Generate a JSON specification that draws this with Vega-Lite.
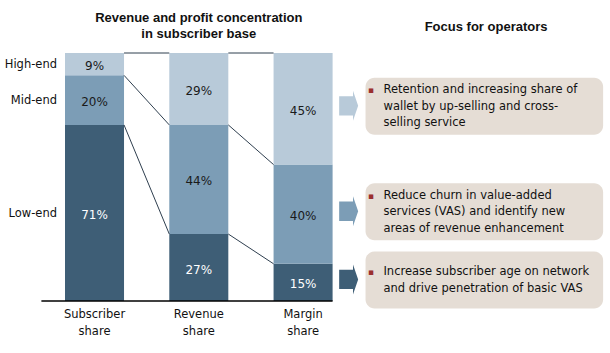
{
  "$schema": "https://vega.github.io/schema/vega-lite/v6.json",
  "width": 610,
  "height": 248,
  "autosize": {"type": "none"},
  "padding": {"top": 53, "bottom": 52, "left": 0, "right": 0},
  "background": "white",
  "config": {"view": {"stroke": null}, "font": "DejaVu Sans"},
  "resolve": {"axis": {"x": "independent", "y": "independent"}},
  "datasets": {
    "shares": [
      {"measure": "Subscriber share", "segment": "Low-end", "value": 0.71},
      {"measure": "Subscriber share", "segment": "Mid-end", "value": 0.20},
      {"measure": "Subscriber share", "segment": "High-end", "value": 0.09},
      {"measure": "Revenue share", "segment": "Low-end", "value": 0.27},
      {"measure": "Revenue share", "segment": "Mid-end", "value": 0.44},
      {"measure": "Revenue share", "segment": "High-end", "value": 0.29},
      {"measure": "Margin share", "segment": "Low-end", "value": 0.15},
      {"measure": "Margin share", "segment": "Mid-end", "value": 0.40},
      {"measure": "Margin share", "segment": "High-end", "value": 0.45}
    ],
    "connectors": [
      {"from": "Subscriber share", "to": "Revenue share", "start": 1.0, "end": 1.0},
      {"from": "Subscriber share", "to": "Revenue share", "start": 0.91, "end": 0.71},
      {"from": "Subscriber share", "to": "Revenue share", "start": 0.71, "end": 0.27},
      {"from": "Revenue share", "to": "Margin share", "start": 1.0, "end": 1.0},
      {"from": "Revenue share", "to": "Margin share", "start": 0.71, "end": 0.55},
      {"from": "Revenue share", "to": "Margin share", "start": 0.27, "end": 0.15}
    ],
    "focus": [
      {"segment": "High-end", "note": "Retention and increasing share of\nwallet by up-selling and cross-\nselling service"},
      {"segment": "Mid-end", "note": "Reduce churn in value-added\nservices (VAS) and identify new\nareas of revenue enhancement"},
      {"segment": "Low-end", "note": "Increase subscriber age on network\nand drive penetration of basic VAS"}
    ]
  },
  "data": {"name": "shares"},
  "transform": [
    {"stack": "value", "groupby": ["measure"], "as": ["y0", "y1"]},
    {"calculate": "(datum.y0 + datum.y1) / 2", "as": "mid"}
  ],
  "layer": [
    {
      "mark": {"type": "rect"},
      "encoding": {
        "x": {"field": "measure", "type": "nominal",
          "scale": {"type": "band", "domain": ["Subscriber share", "Revenue share", "Margin share"], "range": [65, 332.6], "paddingInner": 0.434, "paddingOuter": 0},
          "axis": {"title": null, "domain": false, "ticks": false, "grid": false, "labelAngle": 0, "labelExpr": "split(datum.label, ' ')", "labelFont": "DejaVu Sans", "labelFontSize": 11.5, "labelColor": "#111111", "labelPadding": 7, "labelLineHeight": 17, "labelBaseline": "top"}},
        "y": {"field": "y0", "type": "quantitative", "scale": {"domain": [0, 1], "nice": false, "zero": false}, "axis": null},
        "y2": {"field": "y1"},
        "color": {"field": "segment", "type": "nominal",
          "scale": {"domain": ["High-end", "Mid-end", "Low-end"], "range": ["#b8cad9", "#7c9db6", "#3e5e76"]},
          "legend": null}
      }
    },
    {
      "mark": {"type": "text", "fontSize": 12, "font": "DejaVu Sans", "baseline": "middle", "align": "center", "dy": 2},
      "encoding": {
        "x": {"field": "measure", "type": "nominal",
          "scale": {"type": "band", "domain": ["Subscriber share", "Revenue share", "Margin share"], "range": [65, 332.6], "paddingInner": 0.434, "paddingOuter": 0},
          "axis": null},
        "y": {"field": "mid", "type": "quantitative", "scale": {"domain": [0, 1], "nice": false, "zero": false}, "axis": null},
        "text": {"field": "value", "type": "quantitative", "format": ".0%"},
        "color": {"condition": {"test": "datum.segment === 'Low-end'", "value": "#ffffff"}, "value": "#1a1a1a"}
      }
    },
    {
      "transform": [{"filter": "datum.measure === 'Subscriber share'"}],
      "mark": {"type": "text", "fontSize": 11.5, "font": "DejaVu Sans", "baseline": "middle", "align": "right", "dx": -8, "dy": 1, "color": "#111111"},
      "encoding": {
        "x": {"field": "measure", "type": "nominal", "bandPosition": 0,
          "scale": {"type": "band", "domain": ["Subscriber share", "Revenue share", "Margin share"], "range": [65, 332.6], "paddingInner": 0.434, "paddingOuter": 0},
          "axis": null},
        "y": {"field": "mid", "type": "quantitative", "scale": {"domain": [0, 1], "nice": false, "zero": false}, "axis": null},
        "text": {"field": "segment"}
      }
    },
    {
      "data": {"name": "connectors"},
      "mark": {"type": "rule", "color": "#2f3f4f", "strokeWidth": 1},
      "encoding": {
        "x": {"field": "from", "type": "nominal", "bandPosition": 1,
          "scale": {"type": "band", "domain": ["Subscriber share", "Revenue share", "Margin share"], "range": [65, 332.6], "paddingInner": 0.434, "paddingOuter": 0},
          "axis": null},
        "x2": {"field": "to", "bandPosition": 0},
        "y": {"field": "start", "type": "quantitative", "scale": {"domain": [0, 1], "nice": false, "zero": false}, "axis": null},
        "y2": {"field": "end"}
      }
    },
    {
      "data": {"values": [{}]},
      "mark": {"type": "rule", "color": "#000000", "strokeWidth": 1.5},
      "encoding": {
        "x": {"datum": "Subscriber share", "type": "nominal", "bandPosition": -0.4,
          "scale": {"type": "band", "domain": ["Subscriber share", "Revenue share", "Margin share"], "range": [65, 332.6], "paddingInner": 0.434, "paddingOuter": 0},
          "axis": null},
        "x2": {"datum": "Margin share", "bandPosition": 1},
        "y": {"datum": 0, "type": "quantitative", "scale": {"domain": [0, 1], "nice": false, "zero": false}, "axis": null}
      }
    },
    {
      "transform": [{"filter": "datum.measure === 'Margin share'"}],
      "mark": {"type": "point", "filled": true, "opacity": 1, "strokeWidth": 0, "size": 900, "yOffset": -3,
        "shape": "M-0.633,-0.645 L0.29,-0.645 L0.29,-1 L0.633,0 L0.29,1 L0.29,0.645 L-0.633,0.645 Z"},
      "encoding": {
        "x": {"field": "measure", "type": "nominal", "bandPosition": 1.272,
          "scale": {"type": "band", "domain": ["Subscriber share", "Revenue share", "Margin share"], "range": [65, 332.6], "paddingInner": 0.434, "paddingOuter": 0},
          "axis": null},
        "y": {"field": "mid", "type": "quantitative", "scale": {"domain": [0, 1], "nice": false, "zero": false}, "axis": null},
        "color": {"field": "segment", "type": "nominal",
          "scale": {"domain": ["High-end", "Mid-end", "Low-end"], "range": ["#b8cad9", "#7c9db6", "#3e5e76"]},
          "legend": null}
      }
    },
    {
      "transform": [{"filter": "datum.measure === 'Margin share'"}],
      "mark": {"type": "rect", "fill": "#e5ddd5", "cornerRadius": 9, "yOffset": -31, "y2Offset": 26},
      "encoding": {
        "x": {"field": "measure", "type": "nominal", "bandPosition": 1.558,
          "scale": {"type": "band", "domain": ["Subscriber share", "Revenue share", "Margin share"], "range": [65, 332.6], "paddingInner": 0.434, "paddingOuter": 0},
          "axis": null},
        "x2": {"field": "measure", "bandPosition": 5.583},
        "y": {"field": "mid", "type": "quantitative", "scale": {"domain": [0, 1], "nice": false, "zero": false}, "axis": null},
        "y2": {"field": "mid"}
      }
    },
    {
      "transform": [
        {"filter": "datum.measure === 'Margin share'"},
        {"lookup": "segment", "from": {"data": {"name": "focus"}, "key": "segment", "fields": ["note"]}},
        {"calculate": "datum.mid + (length(split(datum.note, '\\n')) - 1) * 0.0333", "as": "textTop"}
      ],
      "mark": {"type": "text", "align": "left", "baseline": "middle", "fontSize": 11.5, "font": "DejaVu Sans", "lineBreak": "\n", "lineHeight": 16.5, "color": "#111111", "dy": -2},
      "encoding": {
        "x": {"field": "measure", "type": "nominal", "bandPosition": 1.862,
          "scale": {"type": "band", "domain": ["Subscriber share", "Revenue share", "Margin share"], "range": [65, 332.6], "paddingInner": 0.434, "paddingOuter": 0},
          "axis": null},
        "y": {"field": "textTop", "type": "quantitative", "scale": {"domain": [0, 1], "nice": false, "zero": false}, "axis": null},
        "text": {"field": "note"}
      }
    },
    {
      "transform": [
        {"filter": "datum.measure === 'Margin share'"},
        {"lookup": "segment", "from": {"data": {"name": "focus"}, "key": "segment", "fields": ["note"]}},
        {"calculate": "datum.mid + (length(split(datum.note, '\\n')) - 1) * 0.0333", "as": "textTop"}
      ],
      "mark": {"type": "text", "align": "center", "baseline": "middle", "fontSize": 9, "font": "DejaVu Sans", "color": "#9b2f2f", "dy": -2},
      "encoding": {
        "x": {"field": "measure", "type": "nominal", "bandPosition": 1.651,
          "scale": {"type": "band", "domain": ["Subscriber share", "Revenue share", "Margin share"], "range": [65, 332.6], "paddingInner": 0.434, "paddingOuter": 0},
          "axis": null},
        "y": {"field": "textTop", "type": "quantitative", "scale": {"domain": [0, 1], "nice": false, "zero": false}, "axis": null},
        "text": {"value": "\u25aa"}
      }
    },
    {
      "data": {"values": [{}]},
      "mark": {"type": "text", "align": "center", "baseline": "middle", "fontSize": 13, "font": "Liberation Sans", "fontWeight": "bold", "lineHeight": 16, "color": "#111111", "dy": -35.5},
      "encoding": {
        "x": {"datum": "Revenue share", "type": "nominal",
          "scale": {"type": "band", "domain": ["Subscriber share", "Revenue share", "Margin share"], "range": [65, 332.6], "paddingInner": 0.434, "paddingOuter": 0},
          "axis": null},
        "y": {"datum": 1, "type": "quantitative", "scale": {"domain": [0, 1], "nice": false, "zero": false}, "axis": null},
        "text": {"value": ["Revenue and profit concentration", "in subscriber base"]}
      }
    },
    {
      "data": {"values": [{}]},
      "mark": {"type": "text", "align": "center", "baseline": "middle", "fontSize": 13, "font": "Liberation Sans", "fontWeight": "bold", "color": "#111111", "dy": -26},
      "encoding": {
        "x": {"datum": "Margin share", "type": "nominal", "bandPosition": 3.6,
          "scale": {"type": "band", "domain": ["Subscriber share", "Revenue share", "Margin share"], "range": [65, 332.6], "paddingInner": 0.434, "paddingOuter": 0},
          "axis": null},
        "y": {"datum": 1, "type": "quantitative", "scale": {"domain": [0, 1], "nice": false, "zero": false}, "axis": null},
        "text": {"value": "Focus for operators"}
      }
    }
  ]
}
